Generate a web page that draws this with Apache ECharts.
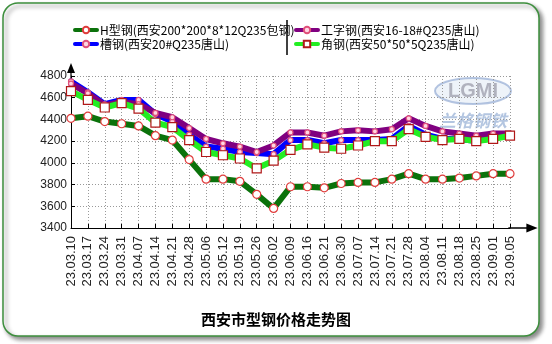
<!DOCTYPE html>
<html>
<head>
<meta charset="utf-8">
<style>
  html, body { margin: 0; padding: 0; background: #fff; }
  #chart { width: 552px; height: 344px; }
</style>
<script src="https://cdn.jsdelivr.net/npm/echarts@6/dist/echarts.min.js"></script>
</head>
<body>
<div id="chart"></div>
<script>
// Weekly quotation dates (yy.mm.dd)
const categories = [
  '23.03.10', '23.03.17', '23.03.24', '23.03.31', '23.04.07', '23.04.14', '23.04.21',
  '23.04.28', '23.05.06', '23.05.12', '23.05.19', '23.05.26', '23.06.02', '23.06.09',
  '23.06.16', '23.06.21', '23.06.30', '23.07.07', '23.07.14', '23.07.21', '23.07.28',
  '23.08.04', '23.08.11', '23.08.18', '23.08.25', '23.09.01', '23.09.05'
];

// Prices, yuan / tonne
const hBeam = [4410, 4430, 4380, 4360, 4340, 4250, 4210, 4030, 3850, 3850, 3830, 3710, 3580, 3780,
               3780, 3770, 3810, 3820, 3820, 3850, 3900, 3850, 3850, 3860, 3880, 3900, 3900];
const channel = [4750, 4650, 4540, 4580, 4580, 4450, 4380, 4260, 4150, 4130, 4100, 4090, 4080, 4210,
                 4210, 4180, 4210, 4210, 4210, 4220, 4340, 4260, 4220, 4220, 4200, 4230, 4250];
const iBeam = [4730, 4640, 4530, 4560, 4540, 4460, 4420, 4320, 4220, 4180, 4150, 4100, 4160, 4280,
               4280, 4250, 4290, 4300, 4290, 4310, 4410, 4340, 4290, 4270, 4250, 4270, 4270];
const angle = [4660, 4580, 4510, 4550, 4500, 4370, 4330, 4210, 4100, 4070, 4040, 3950, 4020, 4120,
               4170, 4140, 4130, 4160, 4200, 4200, 4310, 4240, 4210, 4220, 4200, 4220, 4250];

const seriesNames = [
  'H型钢(西安200*200*8*12Q235包钢)',
  '槽钢(西安20#Q235唐山)',
  '工字钢(西安16-18#Q235唐山)',
  '角钢(西安50*50*5Q235唐山)'
];

// Y scale
const yMin = 3400, yMax = 4800, yStep = 200;

const FONT = '"Liberation Sans", Arial, "Noto Sans CJK SC", sans-serif';
const CJK = '"Noto Sans CJK SC", "Liberation Sans", sans-serif';

// Axis arrow with a short stem so the axis line appears to run into the head
const arrowPath = 'path://M4,0L8,10L4.6,10L4.6,26L3.4,26L3.4,10L0,10Z';

function lineSeries(name, data, lineColor, symbol, symbolSize, fill, border) {
  return {
    name, type: 'line', data,
    symbol, symbolSize,
    lineStyle: { color: lineColor, width: 6, join: 'round', cap: 'round' },
    itemStyle: { color: fill, borderColor: border, borderWidth: 1.2 },
    emphasis: { disabled: true },
    animation: false
  };
}

const chart = echarts.init(document.getElementById('chart'), null, { renderer: 'canvas' });

chart.setOption({
  backgroundColor: '#ffffff',
  animation: false,
  title: {
    text: '西安市型钢价格走势图',
    left: 'center',
    top: 307,
    textStyle: { fontFamily: CJK, fontSize: 15, fontWeight: 'bold', color: '#000' }
  },
  legend: [
    {
      data: [seriesNames[0], seriesNames[1]],
      orient: 'vertical', left: 68, top: 19, itemGap: 2,
      itemWidth: 22, itemHeight: 8,
      lineStyle: { width: 4 },
      textStyle: { fontFamily: CJK, fontSize: 12, color: '#000', padding: [0, 0, 0, -2] }
    },
    {
      data: [seriesNames[2], seriesNames[3]],
      orient: 'vertical', left: 289, top: 19, itemGap: 2,
      itemWidth: 22, itemHeight: 8,
      lineStyle: { width: 4 },
      textStyle: { fontFamily: CJK, fontSize: 12, color: '#000', padding: [0, 0, 0, -2] }
    }
  ],
  grid: { left: 71, right: 42, top: 76, bottom: 116, containLabel: false },
  xAxis: {
    type: 'category',
    data: categories,
    boundaryGap: false,
    axisLine: {
      lineStyle: { color: '#000', width: 1 },
      symbol: ['none', arrowPath], symbolSize: [9, 30], symbolOffset: [0, 13]
    },
    axisTick: { show: true, inside: true, length: 4, lineStyle: { color: '#000' }, alignWithLabel: true },
    axisLabel: { rotate: 90, margin: 8, interval: 0, fontFamily: FONT, fontSize: 13, color: '#222' },
    splitLine: { show: true, interval: 0, lineStyle: { color: '#999', type: [1, 2], width: 1 } }
  },
  yAxis: {
    type: 'value',
    min: yMin, max: yMax, interval: yStep,
    axisLine: {
      show: true,
      lineStyle: { color: '#000', width: 1 },
      symbol: ['none', arrowPath], symbolSize: [9, 26], symbolOffset: [0, 0]
    },
    axisTick: { show: true, inside: true, length: 4, lineStyle: { color: '#000' } },
    axisLabel: {
      margin: 4, fontFamily: FONT, fontSize: 12, color: '#222',
      formatter: (v) => String(v)
    },
    splitLine: { show: true, lineStyle: { color: '#999', type: [1, 2], width: 1 } }
  },
  series: [
    lineSeries(seriesNames[0], hBeam, '#0b720b', 'circle', 8, '#ffffff', '#e03c3c'),
    lineSeries(seriesNames[1], channel, '#0000ff', 'circle', 5, '#ffd6e2', '#e0507a'),
    lineSeries(seriesNames[2], iBeam, '#800080', 'circle', 5, '#ffd6e2', '#e0507a'),
    lineSeries(seriesNames[3], angle, '#22ee22', 'rect', 9, '#ffffff', '#b01818')
  ],
  graphic: [
    // rounded card frame
    {
      type: 'rect', z: -10, silent: true,
      shape: { x: 3, y: 3, width: 536, height: 333, r: 15 },
      style: {
        fill: '#ffffff', stroke: '#3d8f3d', lineWidth: 1.5,
        shadowBlur: 4, shadowOffsetX: 3, shadowOffsetY: 3, shadowColor: 'rgba(0,0,0,0.45)'
      }
    },
    // legend column divider
    {
      type: 'line', silent: true,
      shape: { x1: 287, y1: 20, x2: 287, y2: 55 },
      style: { stroke: '#000', lineWidth: 1.5 }
    },
    // watermark logo
    {
      type: 'group', silent: true, z: 0,
      children: [
        {
          type: 'ellipse',
          shape: { cx: 473, cy: 91, rx: 38, ry: 13 },
          style: { fill: 'rgba(200,215,235,0.3)', stroke: 'rgba(120,150,200,0.55)', lineWidth: 2 }
        },
        {
          type: 'text',
          style: {
            x: 473, y: 91, text: 'LGMI', align: 'center', verticalAlign: 'middle',
            font: 'bold 20px "Liberation Sans", Arial, sans-serif',
            fill: 'rgba(150,150,165,0.7)'
          }
        },
        {
          type: 'text',
          style: {
            x: 473, y: 121, text: '兰格钢铁', align: 'center', verticalAlign: 'middle',
            font: 'italic bold 17px "Noto Sans CJK SC", sans-serif',
            fill: 'rgba(130,160,205,0.6)'
          }
        }
      ]
    }
  ]
});
</script>
</body>
</html>
